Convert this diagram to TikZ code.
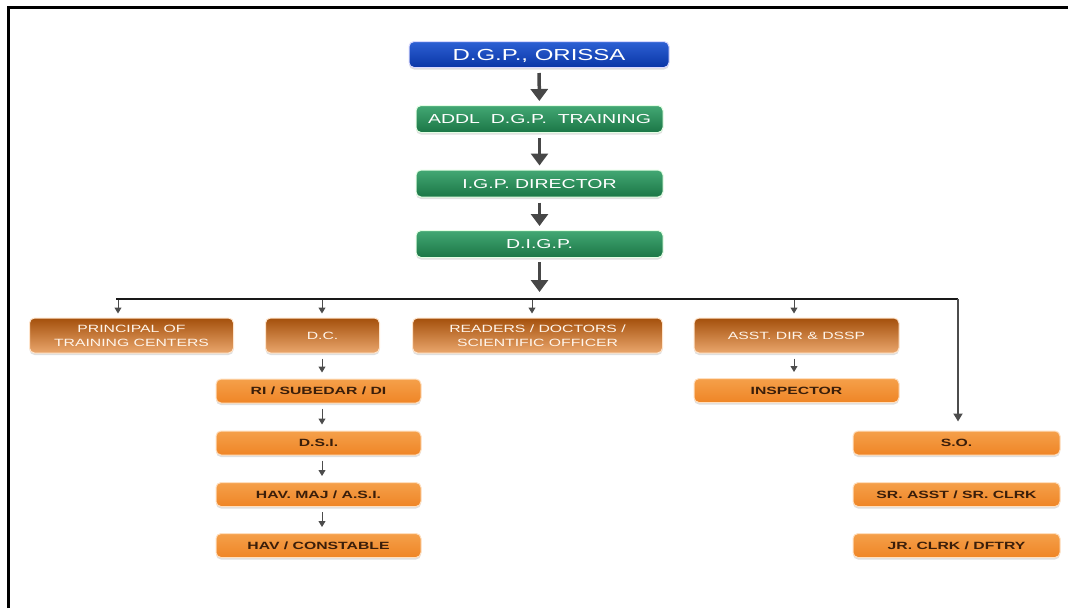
\documentclass[tikz,border=0pt]{standalone}
\usepackage{fontspec}
\setmainfont{Liberation Sans}[FakeStretch=1.5]
\usetikzlibrary{arrows.meta,shadows}
\definecolor{bluetop}{HTML}{2D60D4}
\definecolor{bluebot}{HTML}{0A36A6}
\definecolor{greentop}{HTML}{43A874}
\definecolor{greenbot}{HTML}{1B7646}
\definecolor{browntop}{HTML}{A4500C}
\definecolor{brownbot}{HTML}{EAA66C}
\definecolor{orangetop}{HTML}{F5A04A}
\definecolor{orangebot}{HTML}{EF8526}
\definecolor{darktext}{HTML}{3A1E0A}
\tikzset{
  box/.style={rounded corners=5pt, inner sep=0pt, align=center, line width=1pt, text depth=0pt,
    drop shadow={opacity=0.25, shadow xshift=0pt, shadow yshift=-2pt}},
  bluebox/.style={box, top color=bluetop, bottom color=bluebot, draw=blue!15!white,
    text=white, minimum width=260pt, minimum height=26pt, font=\fontsize{16}{18}\selectfont},
  greenbox/.style={box, top color=greentop, bottom color=greenbot, draw=green!10!white,
    text=white, minimum width=247pt, minimum height=27pt, font=\fontsize{13}{15}\selectfont},
  brownbox/.style={box, top color=browntop, bottom color=brownbot, draw=orange!20!white,
    text=white!92!orange, minimum height=35pt, font=\fontsize{10.5}{14}\selectfont},
  orangebox/.style={box, top color=orangetop, bottom color=orangebot, draw=orange!25!white,
    text=darktext, minimum height=24pt, font=\bfseries\fontsize{10.5}{13}\selectfont},
  bigarrow/.style={-{Triangle[width=17pt,length=12pt]}, line width=3.5pt, draw=black!72},
  smallarrow/.style={-{Triangle[width=7pt,length=6pt]}, line width=1pt, draw=black!70},
  bus/.style={line width=2pt, draw=black!90},
}
\begin{document}
\begin{tikzpicture}[x=1pt,y=-1pt]
\useasboundingbox (0,0) rectangle (1068,608);
% frame
\draw[line width=3pt, black] (8.5,608) -- (8.5,7.5) -- (1068,7.5);

% top chain
\node[bluebox]  (dgp)  at (539,54.5)  {D.G.P., ORISSA};
\node[greenbox] (addl) at (539.5,119) {ADDL\ \ D.G.P.\ \ TRAINING};
\node[greenbox] (igp)  at (539.5,183.5) {I.G.P. DIRECTOR};
\node[greenbox] (digp) at (539.5,244) {D.I.G.P.};

\draw[bigarrow, shorten <=5pt, shorten >=4pt] (dgp) -- (addl);
\draw[bigarrow, shorten <=5pt, shorten >=4pt] (addl) -- (igp);
\draw[bigarrow, shorten <=5pt, shorten >=4pt] (igp) -- (digp);

% bus coordinates
\coordinate (b0) at (116,299);
\coordinate (t1) at (118,299);
\coordinate (t2) at (322,299);
\coordinate (tc) at (539.5,299);
\coordinate (t3) at (532,299);
\coordinate (t4) at (794,299);
\coordinate (t5) at (958,299);

\draw[bigarrow, shorten <=4pt, shorten >=7pt] (digp) -- (tc);

% second row
\node[brownbox, minimum width=204pt] (principal) at (131.5,335.5) {PRINCIPAL OF\\TRAINING CENTERS};
\node[brownbox, minimum width=114pt] (dc) at (322.5,335.5) {D.C.};
\node[brownbox, minimum width=250pt] (readers) at (537.5,335.5) {READERS / DOCTORS /\\SCIENTIFIC OFFICER};
\node[brownbox, minimum width=205pt] (asst) at (796.5,335.5) {ASST. DIR \& DSSP};

% D.C. column
\node[orangebox, minimum width=205pt] (ri)    at (318.5,391) {RI / SUBEDAR / DI};
\node[orangebox, minimum width=205pt] (dsi)   at (318.5,443) {D.S.I.};
\node[orangebox, minimum width=205pt] (havm)  at (318.5,494.5) {HAV. MAJ / A.S.I.};
\node[orangebox, minimum width=205pt] (havc)  at (318.5,545.5) {HAV / CONSTABLE};

% asst column
\node[orangebox, minimum width=205pt] (insp)  at (796.5,390.5) {INSPECTOR};

% right column
\node[orangebox, minimum width=207pt] (so)    at (956.5,443) {S.O.};
\node[orangebox, minimum width=207pt] (sra)   at (956.5,494.5) {SR. ASST / SR. CLRK};
\node[orangebox, minimum width=207pt] (jrc)   at (956.5,545.5) {JR. CLRK / DFTRY};

% bus line and right branch
\draw[bus] (b0) -- (t5);
\draw[line width=1.8pt, draw=black!70, -{Triangle[width=9pt,length=8pt]}, shorten >=9pt] (t5) -- (t5 |- so.north);

% small arrows to second row
\draw[smallarrow, shorten <=1pt, shorten >=4pt] (t1) -- (t1 |- principal.north);
\draw[smallarrow, shorten <=1pt, shorten >=4pt] (t2) -- (t2 |- dc.north);
\draw[smallarrow, shorten <=1pt, shorten >=4pt] (t3) -- (t3 |- readers.north);
\draw[smallarrow, shorten <=1pt, shorten >=4pt] (t4) -- (t4 |- asst.north);

% column arrows
\draw[smallarrow, shorten <=5pt, shorten >=6pt] (t2 |- dc.south) -- (t2 |- ri.north);
\draw[smallarrow, shorten <=5pt, shorten >=6pt] (t2 |- ri.south) -- (t2 |- dsi.north);
\draw[smallarrow, shorten <=5pt, shorten >=6pt] (t2 |- dsi.south) -- (t2 |- havm.north);
\draw[smallarrow, shorten <=5pt, shorten >=6pt] (t2 |- havm.south) -- (t2 |- havc.north);
\draw[smallarrow, shorten <=5pt, shorten >=6pt] (t4 |- asst.south) -- (t4 |- insp.north);
\end{tikzpicture}
\end{document}
